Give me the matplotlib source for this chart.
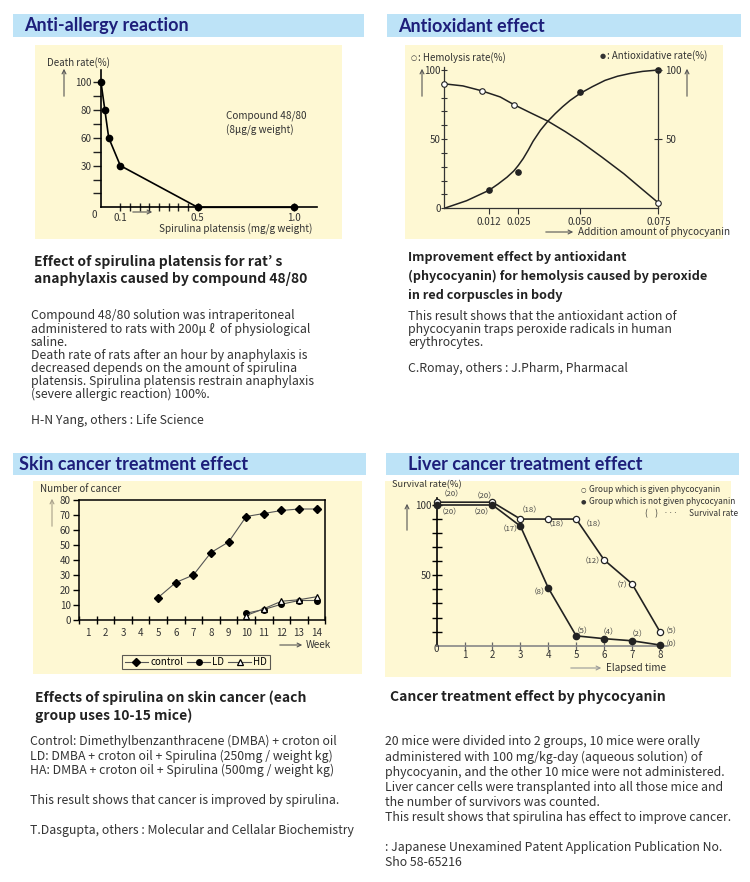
import numpy as np
import matplotlib.pyplot as plt
import matplotlib.transforms as mtransforms
from matplotlib.patches import Rectangle, FancyArrowPatch
from matplotlib.scale import FuncScale

W, H = 750, 882
plt.rcParams['font.family'] = ['Noto Sans CJK JP', 'DejaVu Sans']

# --- anti-allergy
dose = [0, 0.02, 0.04, 0.1, 0.5, 1.0]
death_rate = [100, 80, 60, 30, 0, 0]

# --- antioxidant
hemo_x = [0, 0.010, 0.023, 0.075]
hemo_y = [90, 85, 75, 4]
hemo_curve_x = [0, 0.005, 0.010, 0.017, 0.023, 0.030, 0.037, 0.044, 0.050, 0.057, 0.064, 0.070, 0.075]
hemo_curve_y = [90, 88.5, 85, 80.5, 75, 69, 63, 55.5, 48.5, 37, 25, 13.5, 4]
anti_x = [0.012, 0.025, 0.050, 0.075]
anti_y = [13.5, 26.5, 84, 100]
anti_curve_x = [0, 0.006, 0.012, 0.016, 0.020, 0.023, 0.025, 0.027, 0.029, 0.031, 0.034, 0.037,
                0.040, 0.043, 0.046, 0.050, 0.054, 0.058, 0.062, 0.066, 0.070, 0.075]
anti_curve_y = [0, 5.5, 13, 17.5, 22.5, 27, 31, 36, 42, 48.5, 56.5, 63,
                68.5, 73.5, 78, 83, 88, 92.5, 95.5, 97.5, 99, 100]
phyco_ticks = [0.012, 0.025, 0.050, 0.075]
phyco_labels = ['0.012', '0.025', '0.050', '0.075']

# --- skin cancer
weeks = list(range(1, 15))
control_weeks = list(range(5, 15))
control = [15, 25, 30, 45, 52, 69, 71, 73, 74, 74]
dose_weeks = list(range(10, 15))
ld = [4.5, 7, 10.5, 13, 13]
hd = [3, 7.5, 12.5, 13.5, 15.5]

# --- liver cancer
elapsed = [0, 2, 3, 4, 5, 6, 7, 8]
given = [102, 102, 90, 90, 90, 61, 44, 10]
not_given = [100, 100, 85, 41, 7, 5, 3.5, 0.5]
given_n = ['20', '20', '18', '18', '18', '12', '7', '5']
not_given_n = ['20', '20', '17', '8', '5', '4', '2', '0']
given_off = [(15, -8), (-8, -6), (9, -9), (8, 5), (17, 5), (-12, 1), (-10, 1), (12, 0)]
not_given_off = [(13, 7), (-11, 7), (-10, 3), (-9, 4), (6, -5), (4, -6), (5, -6.5), (12, -1)]

fig = plt.figure(figsize=(W / 100, H / 100), dpi=100)
px = mtransforms.Affine2D().scale(1 / W, -1 / H).translate(0, 1) + fig.transFigure

YELLOW = '#fef8d3'
BLUE = '#bde3f7'
NAVY = '#1d1e7a'
TXT = '#333333'
head_font = ['Lato', 'DejaVu Sans']
sym_font = ['DejaVu Sans']


def box(x0, y0, x1, y1, color):
    fig.add_artist(Rectangle((x0, y0), x1 - x0, y1 - y0, transform=px,
                             facecolor=color, edgecolor='none', zorder=-5))


def add_ax(x0, y0, x1, y1):
    a = fig.add_axes([x0 / W, 1 - y1 / H, (x1 - x0) / W, (y1 - y0) / H])
    a.set_facecolor('none')
    return a


def txt(x, y, s, size=7, **kw):
    kw.setdefault('color', TXT)
    kw.setdefault('va', 'center')
    fig.text(x, y, s, transform=px, fontsize=size, **kw)


def para(x, y0, lines, step, size, **kw):
    for i, line in enumerate(lines):
        if line:
            txt(x, y0 + i * step, line, size, **kw)


def arrow(x0, y0, x1, y1, color='#555555'):
    fig.add_artist(FancyArrowPatch((x0, y0), (x1, y1), transform=px, arrowstyle='->',
                                   mutation_scale=7, lw=0.8, color=color))


# headers
for (x0, x1, y0, y1, tx, title) in [(13, 364, 14, 37, 24, 'Anti-allergy reaction'),
                                    (387, 741, 14, 37, 398, 'Antioxidant effect'),
                                    (13, 366, 453, 475, 19, 'Skin cancer treatment effect'),
                                    (386, 739, 453, 475, 408, 'Liver cancer treatment effect')]:
    box(x0, y0, x1, y1, BLUE)
    txt(tx, (y0 + y1) / 2 + 0.5, title, 13, color=NAVY, fontweight='bold', family=head_font)

box(35, 45, 342, 239, YELLOW)
box(405, 45, 723, 239, YELLOW)
box(33, 481, 362, 674, YELLOW)
box(385, 481, 731, 677, YELLOW)

# ---------------- anti-allergy chart
knots_k = [-100, 0, 30, 60, 100, 300]
pos_k = [-10, 0, 3, 5, 9, 29]
ax1 = add_ax(101, 207.3 - 9.9 * 13.89, 101 + 1.12 * 193.3, 207.3)
ax1.set_yscale(FuncScale(ax1.yaxis, (lambda v: np.interp(v, knots_k, pos_k),
                                      lambda k: np.interp(k, pos_k, knots_k))))
ax1.plot(dose, death_rate, color='black', lw=1.2, marker='o', ms=4.5, clip_on=False)
ax1.set_xlim(0, 1.12)
ax1.set_ylim(0, 109)
ax1.set_yticks([10, 20, 30, 45, 60, 70, 80, 90, 100])
ax1.set_yticklabels(['', '', '30', '', '60', '', '80', '', '100'])
ax1.set_xticks([0.1, 0.5, 1.0])
ax1.set_xticklabels(['0.1', '0.5', '1.0'])
ax1.set_xticks(np.arange(0.15, 0.5, 0.05), minor=True)
ax1.tick_params(axis='y', direction='out', length=6, width=1, labelsize=7, pad=1, colors='#222222', labelcolor=TXT)
ax1.tick_params(axis='x', which='both', direction='inout', length=6, width=1, labelsize=7, pad=1, colors='#222222', labelcolor=TXT)
for s in ['top', 'right']:
    ax1.spines[s].set_visible(False)
for s in ['left', 'bottom']:
    ax1.spines[s].set_linewidth(1.2)
txt(91, 215, '0', 7)
txt(47, 63, 'Death rate(%)', 7)
txt(226, 116, 'Compound 48/80', 7.2)
txt(226, 130, '(8\u03bcg/g weight)', 7.2)
txt(159, 229, 'Spirulina platensis (mg/g weight)', 7.2)
arrow(64, 99, 64, 66)
arrow(130, 212, 155, 212)

# ---------------- antioxidant chart
knots_x = [-1, 0, 0.012, 0.025, 0.050, 0.075, 1.0]
pos_x = [-8560, 0, 134, 222, 407, 642, 8560]
ax2 = add_ax(444.3, 208.3 - 102 * 1.383, 658.3, 208.3)
ax2.set_xscale(FuncScale(ax2.xaxis, (lambda v: np.interp(v, knots_x, pos_x),
                                      lambda p: np.interp(p, pos_x, knots_x))))
ax2.plot(hemo_curve_x, hemo_curve_y, color='#222222', lw=1.1)
ax2.plot(anti_curve_x, anti_curve_y, color='#222222', lw=1.1)
ax2.plot(hemo_x, hemo_y, ls='none', marker='o', ms=4, mfc='white', mec='#222222', mew=0.8, clip_on=False, zorder=3)
ax2.plot(anti_x, anti_y, ls='none', marker='o', ms=3.8, color='#222222', clip_on=False, zorder=3)
ax2.set_xlim(0, 0.075)
ax2.set_ylim(0, 102)
ax2.set_xticks(phyco_ticks)
ax2.set_xticklabels(phyco_labels)
ax2.set_yticks([0, 50, 100])
ax2.set_yticklabels(['0', '50', '100'])
ax2.set_yticks(np.arange(10, 100, 10), minor=True)
ax2.tick_params(axis='y', which='both', direction='inout', length=5, width=0.8, labelsize=7, pad=0, colors='#333333', labelcolor=TXT)
ax2.tick_params(axis='x', direction='out', length=4, width=0.8, labelsize=7, pad=2, colors='#333333', labelcolor=TXT)
ax2.spines['top'].set_visible(False)
ax2.spines['right'].set_bounds(0, 100)
for s in ['left', 'bottom', 'right']:
    ax2.spines[s].set_linewidth(0.9)
    ax2.spines[s].set_color('#333333')
ax2r = ax2.twinx()
ax2r.set_ylim(0, 102)
ax2r.set_yticks([50, 100])
ax2r.set_yticklabels(['50', '100'])
ax2r.tick_params(axis='y', direction='inout', length=6, width=0.8, labelsize=7, pad=2, colors='#333333', labelcolor=TXT)
for s in ['top', 'left', 'bottom', 'right']:
    ax2r.spines[s].set_visible(False)
txt(411, 58, '\u25cb', 5, family=sym_font)
txt(418, 58, ': Hemolysis rate(%)', 7)
txt(600, 56, '\u25cf', 5, family=sym_font)
txt(607, 56, ': Antioxidative rate(%)', 7)
arrow(422, 99, 422, 66)
arrow(687, 99, 687, 66)
arrow(543, 232, 576, 232)
txt(578, 232, 'Addition amount of phycocyanin', 7.2)

# ---------------- skin cancer chart
ax3 = add_ax(79, 500, 79 + 14 * 17.6, 620)
ax3.plot(control_weeks, control, color='#555555', lw=0.8, marker='D', ms=4, mfc='black', mec='black', label='control')
ax3.plot(dose_weeks, ld, color='#555555', lw=0.8, marker='o', ms=4, mfc='black', mec='black', label='LD')
ax3.plot(dose_weeks, hd, color='#555555', lw=0.8, marker='^', ms=5, mfc='white', mec='black', mew=0.9, label='HD')
ax3.set_xlim(0.5, 14.5)
ax3.set_ylim(0, 80)
ax3.set_xticks(weeks)
ax3.set_xticks(np.arange(0.5, 15, 1), minor=True)
ax3.set_yticks(range(0, 81, 10))
ax3.tick_params(axis='x', which='major', length=0, labelsize=7, pad=6, labelcolor=TXT)
ax3.tick_params(axis='x', which='minor', direction='inout', length=6, width=1)
ax3.tick_params(axis='y', direction='out', length=4, width=1, labelsize=7, pad=2, labelcolor=TXT)
for s in ax3.spines.values():
    s.set_linewidth(1.1)
leg = ax3.legend(loc='center', bbox_to_anchor=(196 / W, 1 - 662 / H), bbox_transform=fig.transFigure,
                 ncol=3, fontsize=7, frameon=True, fancybox=False, edgecolor='#333333',
                 handlelength=2.4, columnspacing=0.4, handletextpad=0.2, borderpad=0.25)
leg.get_frame().set_facecolor('none')
leg.get_frame().set_linewidth(0.8)
txt(40, 489, 'Number of cancer', 7)
arrow(52, 529, 52, 496, color='#a8a08a')
arrow(277, 645, 305, 645)
txt(306, 645, 'Week', 7.2)

# ---------------- liver cancer chart
ax4 = add_ax(436.7, 645.7 - 105 * 1.407, 436.7 + 8.25 * 27.9, 645.7)
ax4.plot(elapsed, given, color='#222222', lw=1.2, marker='o', ms=4.5, mfc='white', mec='#222222', mew=0.9, clip_on=False, zorder=3)
ax4.plot(elapsed, not_given, color='#222222', lw=1.2, marker='o', ms=4.5, mfc='#222222', mec='#222222', clip_on=False, zorder=3)
for x, y, n, (dx, dy) in zip(elapsed, given, given_n, given_off):
    ax4.annotate('\uff08' + n + '\uff09', (x, y), xytext=(dx, -dy), textcoords='offset pixels',
                 ha='center', va='center', fontsize=5.5, color='#444444')
for x, y, n, (dx, dy) in zip(elapsed, not_given, not_given_n, not_given_off):
    ax4.annotate('\uff08' + n + '\uff09', (x, y), xytext=(dx, -dy), textcoords='offset pixels',
                 ha='center', va='center', fontsize=5.5, color='#444444')
ax4.set_xlim(0, 8.25)
ax4.set_ylim(0, 105)
ax4.set_xticks(range(1, 9))
ax4.set_yticks([50, 100])
ax4.set_yticks(range(10, 100, 10), minor=True)
ax4.tick_params(axis='y', which='both', direction='inout', length=7, width=1, labelsize=7, pad=0, labelcolor=TXT)
ax4.tick_params(axis='x', direction='inout', length=6, width=0.9, colors='#666666', labelsize=7, pad=0, labelcolor=TXT)
ax4.spines['top'].set_visible(False)
ax4.spines['right'].set_visible(False)
ax4.spines['left'].set_linewidth(1.2)
ax4.spines['bottom'].set_color('#888888')
ax4.spines['bottom'].set_linewidth(1.2)
txt(433, 649, '0', 7)
txt(392, 485, 'Survival rate(%)', 6.7)
arrow(407, 533, 407, 501)
arrow(568, 668, 604, 668, color='#999999')
txt(606, 668, 'Elapsed time', 7.2)
txt(581, 490, '\u25cb', 4.5, family=sym_font)
txt(589, 490, 'Group which is given phycocyanin', 6)
txt(581, 502, '\u25cf', 4.5, family=sym_font)
txt(589, 502, 'Group which is not given phycocyanin', 6)
txt(645, 514, '(    )   \u00b7\u00b7\u00b7      Survival rate', 6)

# ---------------- captions and texts
bold = dict(fontweight='bold', color='#222222')
para(34, 262, ['Effect of spirulina platensis for rat\u2019 s',
               'anaphylaxis caused by compound 48/80'], 16.5, 10, **bold)
para(31, 316, ['Compound 48/80 solution was intraperitoneal',
               'administered to rats with 200\u03bc \u2113  of physiological',
               'saline.',
               'Death rate of rats after an hour by anaphylaxis is',
               'decreased depends on the amount of spirulina',
               'platensis. Spirulina platensis restrain anaphylaxis',
               '(severe allergic reaction) 100%.',
               '',
               'H-N Yang, others : Life Science'], 13.1, 8.85)

para(408, 257, ['Improvement effect by antioxidant',
                '(phycocyanin) for hemolysis caused by peroxide',
                'in red corpuscles in body'], 19.2, 9.1, **bold)
para(408, 317, ['This result shows that the antioxidant action of',
                'phycocyanin traps peroxide radicals in human',
                'erythrocytes.',
                '',
                'C.Romay, others : J.Pharm, Pharmacal'], 12.8, 8.85)

para(35, 698, ['Effects of spirulina on skin cancer (each',
               'group uses 10-15 mice)'], 17.3, 10, **bold)
para(30, 741, ['Control: Dimethylbenzanthracene (DMBA) + croton oil',
               'LD: DMBA + croton oil + Spirulina (250mg / weight kg)',
               'HA: DMBA + croton oil + Spirulina (500mg / weight kg)',
               '',
               'This result shows that cancer is improved by spirulina.',
               '',
               'T.Dasgupta, others : Molecular and Cellalar Biochemistry'], 14.9, 8.85)

para(390, 697, ['Cancer treatment effect by phycocyanin'], 17, 10, **bold)
para(385, 742, ['20 mice were divided into 2 groups, 10 mice were orally',
                'administered with 100 mg/kg-day (aqueous solution) of',
                'phycocyanin, and the other 10 mice were not administered.',
                'Liver cancer cells were transplanted into all those mice and',
                'the number of survivors was counted.',
                'This result shows that spirulina has effect to improve cancer.',
                '',
                ': Japanese Unexamined Patent Application Publication No.',
                'Sho 58-65216'], 15.1, 8.85)

fig.savefig('out.png', dpi=100, facecolor='white')
